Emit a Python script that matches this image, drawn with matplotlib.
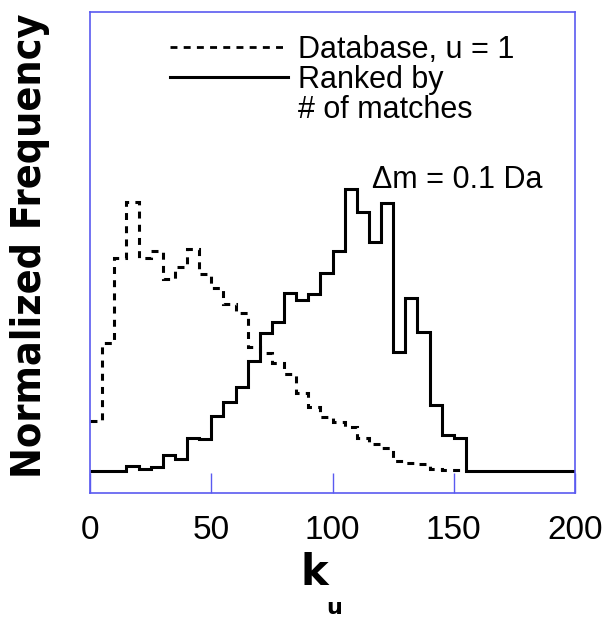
import numpy as np
import matplotlib
matplotlib.use("Agg")
import matplotlib.pyplot as plt
from matplotlib.lines import Line2D
from matplotlib.transforms import Affine2D

plt.rcParams['lines.scale_dashes'] = False

# ---- data (normalized frequency, arbitrary units) ----
bin_width = 5
database_u1 = [50, 128, 213, 269, 213, 220, 192, 204, 222, 197,
               183, 167, 158, 124, 118, 108, 97, 78, 64, 54,
               49, 44, 33, 27, 23, 10, 8, 7, 2, 1, 1]
ranked_matches = [0, 0, 0, 5, 2, 4, 16, 12, 33, 32,
                  55, 69, 84, 110, 138, 149, 178, 171, 177, 198,
                  220, 282, 259, 229, 268, 119, 173, 139, 66, 36,
                  33, 0, 0, 0, 0, 0, 0, 0, 0, 0]
xticks = [0, 50, 100, 150, 200]
legend_labels = ["Database, u = 1", "Ranked by", "# of matches"]
annotation = "\u0394m = 0.1 Da"

edges_db = np.arange(len(database_u1) + 1) * bin_width
edges_rk = np.arange(len(ranked_matches) + 1) * bin_width

W, H = 607, 622
fig = plt.figure(figsize=(W / 100, H / 100), dpi=100)
left, right, top, bottom = 90, 575, 12, 493
ax = fig.add_axes([left / W, 1 - bottom / H, (right - left) / W, (bottom - top) / H])

frame_color = '#5a5af0'
lw = 2.2
dash = (0, (5, 4.5))
ax.stairs(database_u1, edges_db, baseline=None, color='black', linewidth=lw, linestyle=dash)
ax.stairs(ranked_matches, edges_rk, baseline=None, color='black', linewidth=lw)

ax.set_xlim(0, 200)
ax.set_ylim(-22, 459)
ax.set_xticks(xticks)
ax.set_xticklabels([str(t) for t in xticks], fontsize=24, family='Liberation Sans')
ax.set_yticks([])
ax.tick_params(axis='x', direction='in', length=14.4, width=1, color=frame_color, pad=16)
for s in ax.spines.values():
    s.set_color(frame_color)
    s.set_linewidth(1.2)

fs_leg = 22
handles = [Line2D([], [], color='black', linewidth=2.0, linestyle=dash),
           Line2D([], [], color='black', linewidth=2.2),
           Line2D([], [], linestyle='none')]
leg = ax.legend(handles, legend_labels, loc='upper left', bbox_to_anchor=(0.165, 0.952),
                frameon=False, handlelength=3.86, handletextpad=0.33, labelspacing=0.0,
                borderpad=0, borderaxespad=0,
                prop={'family': 'Liberation Sans', 'size': fs_leg})

pix = Affine2D().scale(1, -1).translate(0, H)
ax.text(372, 180, annotation, transform=pix, fontsize=fs_leg, family='Liberation Sans',
        ha='left', va='center')

fig.text(314 / W, 1 - 573 / H, 'k', fontsize=30, fontweight='bold', ha='center', va='center')
fig.text(334 / W, 1 - 608 / H, 'u', fontsize=16, fontweight='bold', ha='center', va='center')
fig.text(30 / W, 1 - 246 / H, 'Normalized Frequency', fontsize=29.5, fontweight='bold',
         fontstretch='condensed', family='DejaVu Sans',
         rotation=90, ha='center', va='center')

fig.savefig('out.png', dpi=100)
